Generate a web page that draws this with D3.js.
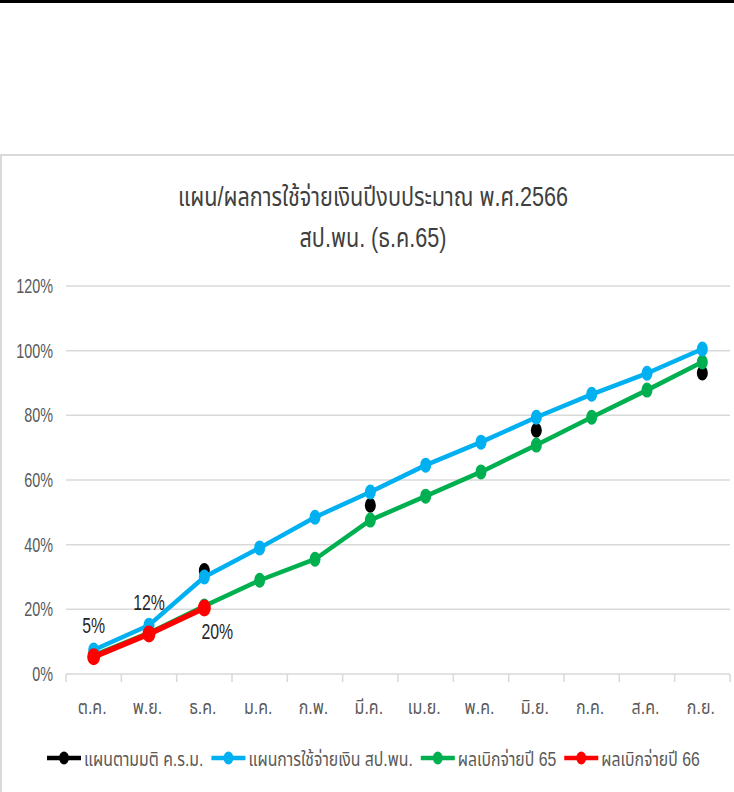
<!DOCTYPE html>
<html><head><meta charset="utf-8">
<script src="https://cdn.jsdelivr.net/npm/d3@7"></script>
<style>html,body{margin:0;padding:0;background:#fff;overflow:hidden}</style>
</head><body>
<svg id="c" width="734" height="792"></svg>
<script>
const months = ["ต.ค.","พ.ย.","ธ.ค.","ม.ค.","ก.พ.","มี.ค.","เม.ย.","พ.ค.","มิ.ย.","ก.ค.","ส.ค.","ก.ย."];
const yTicks = [0,0.2,0.4,0.6,0.8,1.0,1.2];
const seriesNames = ["แผนตามมติ ค.ร.ม.","แผนการใช้จ่ายเงิน สป.พน.","ผลเบิกจ่ายปี 65","ผลเบิกจ่ายปี 66"];
const seriesColors = ["#000000","#00b0f0","#00b050","#ff0000"];
const planCabinet = [null,null,0.32,null,null,0.522,null,null,0.754,null,null,0.931];
const planOffice = [0.074,0.151,0.30,0.39,0.485,0.563,0.646,0.717,0.794,0.865,0.93,1.005];
const actual65 = [0.058,0.127,0.21,0.29,0.355,0.476,0.55,0.625,0.708,0.794,0.878,0.965];
const actual66 = [0.053,0.124,0.204];
const titleLines = ["แผน/ผลการใช้จ่ายเงินปีงบประมาณ พ.ศ.2566","สป.พน. (ธ.ค.65)"];
const labelPlacement = ["above","above","belowRight"];

const FONT = "'Liberation Sans', 'Noto Sans Thai', Tahoma, sans-serif";
const svg = d3.select("#c");

svg.append("rect").attr("x",0).attr("y",0).attr("width",734).attr("height",792).attr("fill","#fff");
svg.append("rect").attr("x",0).attr("y",0).attr("width",734).attr("height",3).attr("fill","#000");
svg.append("rect").attr("x",1).attr("y",155).attr("width",760).attr("height",700)
  .attr("fill","#fff").attr("stroke","#d9d9d9").attr("stroke-width",2);

function txt(g, x, y, s, size, color, anchor, sx){
  return g.append("text").attr("transform",`translate(${x},${y}) scale(${sx||0.72},1)`)
    .attr("text-anchor",anchor||"middle").attr("dominant-baseline","central")
    .attr("font-family",FONT).attr("font-size",size).attr("fill",color).text(s);
}

const x = d3.scaleBand().domain(months).range([66,730]);
const y = d3.scaleLinear().domain([0,1.2]).range([674,286]);
const cx = m => x(m) + x.bandwidth()/2;
const pct = d3.format(".0%");

// title
txt(svg, 373, 197, titleLines[0], 27, "#404040", "middle", 0.8);
txt(svg, 373, 238, titleLines[1], 27, "#404040", "middle", 0.8);

// gridlines
svg.append("g").selectAll("line").data(yTicks).join("line")
  .attr("x1",66).attr("x2",730).attr("y1",d=>y(d)).attr("y2",d=>y(d))
  .attr("stroke","#d9d9d9").attr("stroke-width",1.5);
yTicks.forEach(t => txt(svg, 53, y(t), pct(t), 20, "#595959", "end", 0.72));

// x ticks
const bounds = months.map(m=>x(m)).concat([730]);
svg.append("g").selectAll("line").data(bounds).join("line")
  .attr("x1",d=>d).attr("x2",d=>d).attr("y1",674).attr("y2",682)
  .attr("stroke","#d9d9d9").attr("stroke-width",1.5);
months.forEach(m => txt(svg, cx(m)-1.5, 707, m, 20, "#595959", "middle", 0.8));

function drawSeries(vals, color, rx, ry, sw){
  const pts = vals.map((v,i)=>({m:months[i],v})).filter(d=>d.v!=null);
  const line = d3.line().defined(d=>d.v!=null).x(d=>cx(d.m)).y(d=>y(d.v));
  const data = vals.map((v,i)=>({m:months[i],v}));
  svg.append("path").datum(data).attr("d",line).attr("fill","none")
    .attr("stroke",color).attr("stroke-width",sw).attr("stroke-linejoin","round");
  svg.append("g").selectAll("ellipse").data(pts).join("ellipse")
    .attr("cx",d=>cx(d.m)).attr("cy",d=>y(d.v)).attr("rx",rx).attr("ry",ry).attr("fill",color);
}
drawSeries(planCabinet, seriesColors[0], 5.5, 7.5, 4.5);
drawSeries(actual65, seriesColors[2], 5.5, 7.5, 4.5);
drawSeries(planOffice, seriesColors[1], 5.5, 7.5, 4.5);
drawSeries(actual66, seriesColors[3], 6.5, 8.5, 5.5);

// data labels
actual66.forEach((v,i)=>{
  const px = cx(months[i]), py = y(v);
  const p = labelPlacement[i];
  const lx = p==="belowRight" ? px+13 : px;
  const ly = p==="belowRight" ? py+24 : py-31;
  txt(svg, lx, ly, pct(Math.floor(v*100)/100), 22, "#262626", "middle", 0.72);
});

// legend
const LSX = 0.79;
const lg = svg.append("g");
let lxPos = 47;
seriesNames.forEach((n,i)=>{
  lg.append("line").attr("x1",lxPos).attr("x2",lxPos+34).attr("y1",758).attr("y2",758)
    .attr("stroke",seriesColors[i]).attr("stroke-width",4.5);
  lg.append("ellipse").attr("cx",lxPos+17).attr("cy",758).attr("rx",5).attr("ry",6.5).attr("fill",seriesColors[i]);
  const t = txt(lg, lxPos+37, 759, n, 20, "#595959", "start", LSX);
  const w = t.node().getComputedTextLength()*LSX;
  lxPos += 37 + w + 8;
});
</script>
</body></html>
